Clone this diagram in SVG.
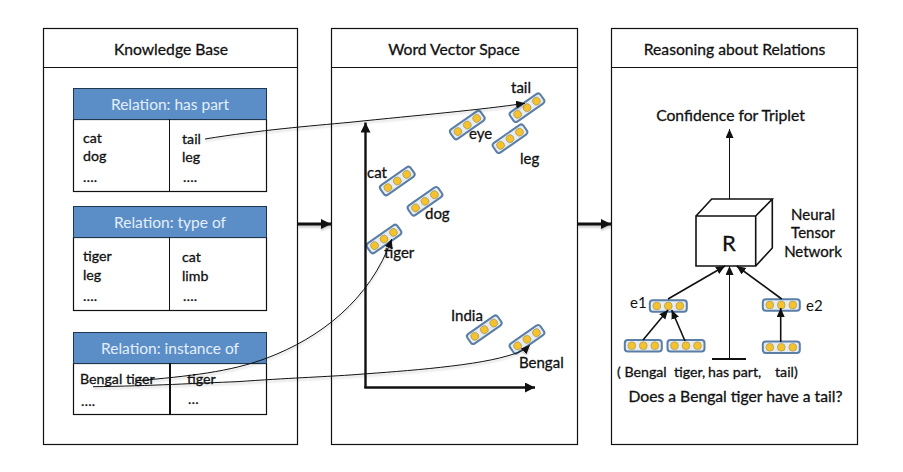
<svg xmlns="http://www.w3.org/2000/svg" width="903" height="472" viewBox="0 0 903 472">
<style>
text{font-family:Lato,"Noto Sans",sans-serif;fill:#111;stroke:#111;stroke-width:.3}
.t{font-size:15.7px;text-anchor:middle}
.h{font-size:15.5px;fill:#e4eef8;stroke:none;text-anchor:middle}
.c{font-size:14.2px}
.l{font-size:15px}
.b{fill:#fff;stroke:#111;stroke-width:1.2}
.hd{fill:#5b8ec7;stroke:#1f3550;stroke-width:1}
.thin{fill:none;stroke:#111;stroke-width:1}
.med{fill:none;stroke:#111;stroke-width:1.600}
.thick{fill:none;stroke:#111;stroke-width:2.400}
.sh{filter:drop-shadow(0 2px 1px rgba(0,0,0,.22))}
</style>
<defs>
<g id="v">
<rect x="-18.500" y="-5.800" width="37" height="11.600" rx="3" fill="#e6ecf4" stroke="#5a7ea6" stroke-width="2"/>
<g fill="#f5c22c" stroke="#9a9060" stroke-width=".6"><circle cx="-11.500" r="3.900"/><circle r="3.900"/><circle cx="11.500" r="3.900"/></g>
</g>
<marker id="a" markerWidth="10" markerHeight="9" refX="9" refY="4" orient="auto" markerUnits="userSpaceOnUse"><path d="M0 0L9 4L0 8z" fill="#111"/></marker>
<marker id="b" markerWidth="12" markerHeight="12" refX="10" refY="5" orient="auto" markerUnits="userSpaceOnUse"><path d="M0 0L10 5L0 10z" fill="#111"/></marker>
</defs>
<g id="panel-kb">
<rect class="b" x="43.500" y="28.500" width="254" height="416"/><line class="thin" x1="43" y1="67.500" x2="297" y2="67.500"/>
<text class="t" x="171" y="55">Knowledge Base</text>
</g>
<g id="panel-wv">
<rect class="b" x="331.500" y="28.500" width="246" height="416"/><line class="thin" x1="331" y1="67.500" x2="577" y2="67.500"/>
<text class="t" x="454" y="55">Word Vector Space</text>
</g>
<g id="panel-rr">
<rect class="b" x="611.500" y="28.500" width="246" height="416"/><line class="thin" x1="611" y1="67.500" x2="857" y2="67.500"/>
<text class="t" x="734.500" y="55">Reasoning about Relations</text>
</g>
<g id="table-has-part">
<rect class="b" x="73.500" y="119.500" width="193" height="72"/><rect class="hd" x="73.500" y="88.500" width="193" height="31"/>
<line class="thin" x1="169.500" y1="119" x2="169.500" y2="191"/>
<text class="h" x="170" y="110">Relation: has part</text>
<text class="c" x="83" y="143">cat</text><text class="c" x="83" y="161">dog</text><text class="c" x="83" y="182">….</text>
<text class="c" x="182" y="144">tail</text><text class="c" x="182" y="162">leg</text><text class="c" x="183" y="182">….</text>
</g>
<g id="table-type-of">
<rect class="b" x="73.500" y="237.500" width="193" height="73"/><rect class="hd" x="73.500" y="206.500" width="193" height="31"/>
<line class="thin" x1="169.500" y1="237" x2="169.500" y2="310"/>
<text class="h" x="170" y="228">Relation: type of</text>
<text class="c" x="83" y="261">tiger</text><text class="c" x="83" y="280">leg</text><text class="c" x="83" y="301">….</text>
<text class="c" x="182" y="262">cat</text><text class="c" x="182" y="281">limb</text><text class="c" x="183" y="301">….</text>
</g>
<g id="table-instance-of">
<rect class="b" x="73.500" y="363.500" width="193" height="51"/><rect class="hd" x="73.500" y="332.500" width="193" height="31"/>
<line x1="170" y1="363" x2="170" y2="414" stroke="#111" stroke-width="2"/>
<text class="h" x="170" y="354">Relation: instance of</text>
<text class="c" x="80" y="384">Bengal tiger</text><text class="c" x="81" y="406">….</text>
<text class="c" x="187" y="384">tiger</text><text class="c" x="188" y="404">…</text>
</g>
<g id="word-vectors">
<use href="#v" transform="translate(527 107.700) rotate(-35)"/><text class="l" x="511" y="93">tail</text>
<use href="#v" transform="translate(467.300 125) rotate(-35)"/><text class="l" x="469" y="139">eye</text>
<use href="#v" transform="translate(510 138.700) rotate(-35)"/><text class="l" x="520" y="164">leg</text>
<use href="#v" transform="translate(397.300 181) rotate(-35)"/><text class="l" x="367" y="178">cat</text>
<use href="#v" transform="translate(425 201.300) rotate(-35)"/><text class="l" x="425" y="219">dog</text>
<use href="#v" transform="translate(384 239) rotate(-35)"/><text class="l" x="384" y="258">tiger</text>
<use href="#v" transform="translate(484.300 329.700) rotate(-35)"/><text class="l" x="451" y="321">India</text>
<use href="#v" transform="translate(527 339.300) rotate(-35)"/><text class="l" x="519" y="368">Bengal</text>
</g>
<g id="rr-network">
<path d="M696 216H755.700V266H696ZM696 216L711.700 199H772.300L755.700 216M772.300 199V248L755.700 266" fill="#fff" stroke="#111" stroke-width="1.600"/>
<text x="729" y="251" style="font-size:22px" text-anchor="middle">R</text>
<text class="l" x="813" y="220" text-anchor="middle">Neural</text>
<text class="l" x="813" y="238" text-anchor="middle">Tensor</text>
<text class="l" x="813" y="257" text-anchor="middle">Network</text>
<text class="t" x="730.500" y="121">Confidence for Triplet</text>
<use href="#v" transform="translate(668.300 306)"/><use href="#v" transform="translate(781.300 305)"/>
<use href="#v" transform="translate(643.300 345.700)"/><use href="#v" transform="translate(686 345.700)"/><use href="#v" transform="translate(781.300 347.300)"/>
<text class="c" x="630" y="308" style="stroke:none;font-size:15px">e1</text><text class="c" x="806" y="311" style="stroke:none;font-size:15px">e2</text>
<text class="c" x="617" y="377">( Bengal</text><text class="c" x="674" y="377">tiger,</text><text class="c" x="708" y="377">has part,</text><text class="c" x="775" y="377">tail)</text>
<text class="t" x="735.500" y="402">Does a Bengal tiger have a tail?</text>
</g>
<g id="connectors">
<path class="thin sh" marker-end="url(#a)" d="M205 139C260 130 310 126 350 122.300C420 115 480 110 525 103.300"/>
<path class="thin sh" marker-end="url(#a)" d="M135 381C190 376 230 372 267 358C320 338 370 300 391.700 239"/>
<path class="thin sh" marker-end="url(#a)" d="M93 386.700C150 386 200 383 237 381.700C290 378 320 377 350 375C390 372 470 367 507 356C518 353 525 350 530 345"/>
<path class="thick sh" marker-end="url(#b)" style="stroke-width:3" d="M298 224H331"/>
<path class="thick sh" marker-end="url(#b)" style="stroke-width:3" d="M578 224H611"/>
<path class="thick" marker-end="url(#b)" d="M365.500 388V122.500"/>
<path class="thick" marker-end="url(#b)" d="M364.300 387.500H535"/>
<path class="thin" marker-end="url(#a)" d="M729.500 199V129"/>
<path class="med" marker-end="url(#a)" d="M668 299L725 266"/>
<path class="thin" marker-end="url(#a)" d="M729.500 358V266"/>
<path class="med" marker-end="url(#a)" d="M781.700 299L736.700 266"/>
<path class="med" style="stroke-width:1.800" d="M712 359H746"/>
<path class="med" marker-end="url(#a)" d="M643 340L668 310"/>
<path class="med" marker-end="url(#a)" d="M685 341L671.700 310"/>
<path class="med" marker-end="url(#a)" d="M780.700 342V308"/>
</g>
</svg>
